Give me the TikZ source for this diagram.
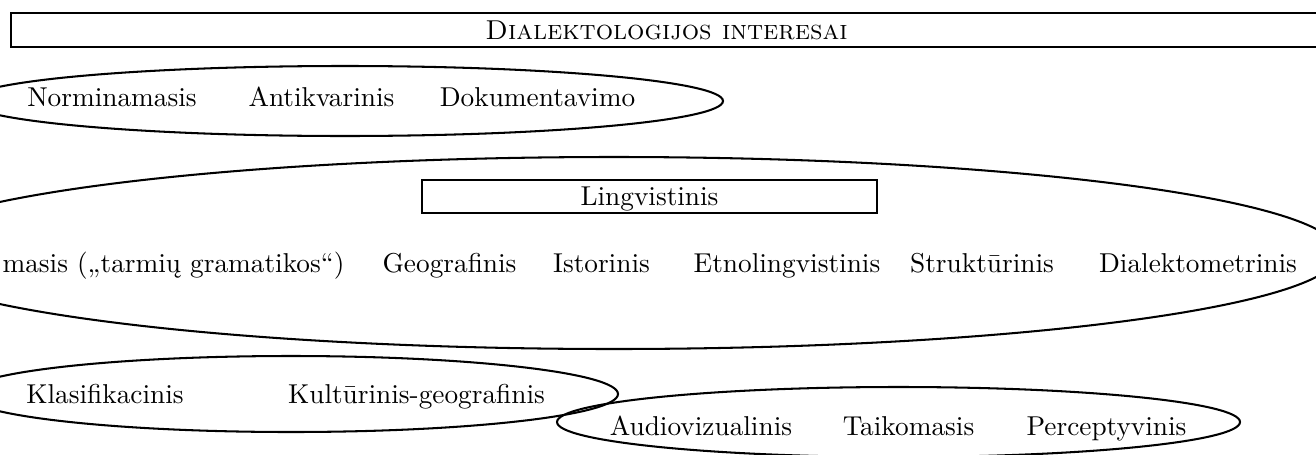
\documentclass[tikz,border=0pt]{standalone}
\usepackage{fontspec}
\usetikzlibrary{shapes.geometric}
\def\U{0.3663pt}
\begin{document}
\begin{tikzpicture}[x=0.3663pt, y=-0.3663pt,
  grp/.style={draw, ellipse, line width=0.75pt, inner sep=0pt, outer sep=0pt},
  box/.style={draw, rectangle, line width=0.8pt, inner sep=0pt, outer sep=0pt,
    font=\fontsize{10}{12}\selectfont, text height=6.83pt, text depth=0pt},
  lbl/.style={anchor=base, inner sep=0pt, font=\fontsize{10}{12}\selectfont}]
\useasboundingbox (0,0) rectangle (1316,454);
% title
\node[box, minimum width={1311*\U}, minimum height={34*\U}] (title) at (666.5,30) {\textsc{Dialektologijos interesai}};
% group ellipses
\node[grp, minimum width={756*\U}, minimum height={70*\U}] (e1) at (345,101) {};
\node[grp, minimum width={1450*\U}, minimum height={192*\U}] (e2) at (614,253) {};
\node[grp, minimum width={654*\U}, minimum height={76*\U}] (e3) at (291,394) {};
\node[grp, minimum width={683*\U}, minimum height={70*\U}] (e4) at (898.5,422) {};
% row 1
\node[lbl] (norm) at (112,106) {Norminamasis};
\node[lbl] (anti) at (321.5,106) {Antikvarinis};
\node[lbl] (doku) at (537.5,106) {Dokumentavimo};
% row 2
\node[box, minimum width={455*\U}, minimum height={33*\U}] (ling) at (649.5,196.5) {Lingvistinis};
\node[lbl, anchor=base west] (apra) at (2,272) {masis („tarmių gramatikos“)};
\node[lbl] (geo) at (449.5,272) {Geografinis};
\node[lbl] (ist) at (601.5,272) {Istorinis};
\node[lbl] (etno) at (787,272) {Etnolingvistinis};
\node[lbl] (strukt) at (982,272) {Struktūrinis};
\node[lbl] (dmetr) at (1198,272) {Dialektometrinis};
% row 3
\node[lbl] (klas) at (105,403) {Klasifikacinis};
\node[lbl] (kult) at (416.5,403) {Kultūrinis-geografinis};
% row 4
\node[lbl] (audio) at (701,435) {Audiovizualinis};
\node[lbl] (taik) at (908.5,435) {Taikomasis};
\node[lbl] (perc) at (1106.5,435) {Perceptyvinis};
\end{tikzpicture}
\end{document}
